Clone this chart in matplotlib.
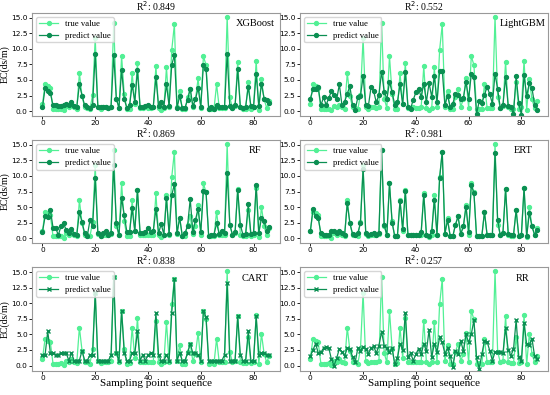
import numpy as np
import matplotlib.pyplot as plt

# true EC values at each sampling point
true_vals = [1.1, 4.3, 4.0, 3.7, 0.3, 0.3, 0.3, 0.4, 0.1, 0.8,
             0.6, 1.0, 0.6, 0.4, 6.1, 2.4, 0.6, 0.5, 0.3, 2.6,
             11.7, 0.7, 0.4, 0.6, 0.6, 0.5, 0.7, 14.2, 2.0, 0.5,
             8.8, 2.7, 0.3, 0.4, 6.1, 1.2, 7.7, 0.5, 0.5, 0.6,
             0.5, 0.5, 0.6, 7.2, 0.5, 0.2, 0.5, 7.0, 0.6, 9.8,
             13.9, 0.7, 3.3, 0.3, 0.3, 2.2, 3.5, 0.7, 1.9, 5.3,
             0.5, 8.8, 7.4, 0.3, 0.4, 0.3, 4.3, 0.5, 0.5, 0.5,
             15.1, 2.2, 0.5, 0.8, 7.9, 0.6, 0.4, 0.4, 4.6, 0.4,
             0.6, 8.1, 0.2, 5.1, 1.9, 0.5, 1.6]

xgb_pred = [0.6, 3.7, 3.2, 2.9, 0.9, 0.9, 0.8, 0.8, 0.9, 1.2,
            0.9, 1.5, 0.8, 0.6, 4.3, 2.5, 0.9, 0.7, 0.5, 1.0,
            9.2, 0.6, 0.6, 0.7, 0.7, 0.5, 0.7, 9.0, 2.0, 0.5,
            6.6, 1.9, 0.5, 0.9, 4.2, 1.5, 6.6, 0.6, 0.6, 0.8,
            0.9, 0.6, 0.7, 5.4, 0.8, 1.5, 0.7, 4.3, 0.8, 7.4,
            9.0, 0.5, 2.4, 0.5, 0.5, 1.8, 3.6, 0.8, 1.9, 3.7,
            0.7, 7.4, 6.7, 0.4, 0.6, 0.4, 0.9, 0.7, 0.6, 0.6,
            9.2, 0.8, 0.5, 0.9, 6.7, 0.6, 0.5, 0.7, 3.9, 0.8,
            0.7, 6.0, 0.8, 4.4, 2.0, 1.7, 1.3]

lgbm_pred = [2.0, 3.5, 3.5, 3.8, 0.9, 2.2, 1.0, 2.1, 3.2, 2.6,
             1.9, 4.3, 0.9, 1.5, 2.8, 4.0, 1.0, 0.2, 2.2, 2.4,
             5.6, 0.9, 0.8, 3.8, 3.2, 1.4, 2.6, 6.3, 3.1, 1.9,
             4.7, 3.0, 1.0, 1.4, 4.3, 1.1, 6.3, 0.7, 0.4, 1.8,
             3.0, 3.6, 2.3, 4.4, 1.5, 4.5, 2.3, 5.6, 1.5, 6.4,
             6.5, 0.9, 2.5, 0.7, 1.2, 2.7, 2.6, 1.9, 2.1, 4.7,
             2.0, 5.9, 5.5, -0.5, 1.6, 1.3, 2.6, 3.9, 2.7, 1.2,
             6.0, 3.5, 0.5, 0.9, 5.5, 0.8, 0.7, -0.5, 5.6, 1.3,
             -0.6, 5.8, 2.4, 4.5, 3.7, 1.0, 0.2]

rf_pred = [1.0, 3.5, 3.4, 4.6, 1.7, 1.7, 0.5, 1.9, 2.4, 1.3,
           0.8, 1.5, 0.7, 0.5, 4.2, 2.6, 0.8, 0.4, 2.9, 1.9,
           9.6, 0.8, 0.4, 0.8, 1.2, 0.5, 0.8, 11.8, 2.4, 0.5,
           6.5, 3.7, 1.0, 1.0, 4.8, 1.1, 7.8, 0.9, 0.8, 1.0,
           1.7, 1.0, 1.2, 4.7, 0.8, 2.3, 0.6, 6.4, 0.7, 6.9,
           8.7, 0.8, 3.3, 0.4, 0.8, 2.0, 6.3, 1.0, 3.0, 4.7,
           1.0, 7.6, 7.4, 0.3, 0.6, 0.6, 2.4, 0.7, 1.2, 0.8,
           10.5, 2.2, 0.6, 1.0, 7.8, 2.2, 0.5, 0.7, 5.5, 0.7,
           0.9, 8.6, 0.9, 3.2, 2.8, 1.1, 1.8]

ert_pred = [1.1, 4.7, 3.5, 3.2, 0.8, 0.6, 0.5, 0.6, 1.1, 1.2,
            0.8, 1.1, 0.8, 0.5, 5.6, 2.4, 0.7, 0.5, 0.8, 2.5,
            11.2, 0.8, 0.5, 0.7, 0.8, 0.5, 0.9, 14.2, 2.1, 0.5,
            8.8, 2.5, 0.3, 0.4, 6.0, 1.5, 7.6, 0.5, 0.6, 0.6,
            0.5, 0.6, 1.0, 7.0, 0.6, 0.3, 1.1, 6.2, 0.6, 9.7,
            13.9, 0.7, 2.9, 0.4, 0.3, 2.2, 3.5, 0.7, 1.9, 5.1,
            1.0, 8.5, 7.3, 0.3, 0.4, 0.4, 4.2, 0.5, 0.6, 0.6,
            13.7, 2.9, 0.5, 0.9, 7.9, 0.7, 0.5, 0.5, 4.5, 0.4,
            0.6, 8.1, 0.3, 4.1, 1.9, 0.6, 1.3]

cart_pred = [1.7, 1.7, 5.5, 2.0, 2.0, 1.7, 1.7, 2.0, 2.0, 2.0,
             0.8, 2.0, 0.8, 0.8, 0.8, 2.4, 0.8, 0.8, 1.7, 1.7,
             11.7, 0.8, 0.8, 0.8, 0.8, 0.8, 1.7, 14.2, 2.0, 0.8,
             8.8, 2.0, 0.8, 0.8, 2.0, 2.0, 5.5, 0.8, 1.7, 0.8,
             1.7, 2.0, 1.7, 8.5, 1.7, 0.8, 0.8, 1.7, 0.8, 8.5,
             13.9, 0.8, 2.0, 0.8, 0.8, 2.0, 3.5, 2.0, 2.0, 1.7,
             0.8, 8.8, 7.8, 0.8, 0.8, 0.8, 0.8, 0.8, 0.8, 1.7,
             13.3, 0.8, 0.8, 0.8, 7.9, 1.7, 0.8, 0.8, 5.5, 0.8,
             0.8, 7.9, 1.7, 2.0, 2.0, 1.7, 1.7]

rr_pred = [1.5, 2.5, 3.5, 2.0, 2.1, 2.8, 2.9, 2.8, 1.0, 0.0,
           1.2, 2.7, 2.2, 1.5, 2.8, 2.7, 1.4, 0.5, 2.8, 2.4,
           3.0, 2.7, 1.9, 2.8, 3.1, 2.0, 3.2, 5.4, 3.2, 2.8,
           2.2, 2.8, 0.2, 1.2, 3.5, 2.5, 8.5, 1.3, 2.0, 0.8,
           1.8, 2.7, 1.8, 3.5, 2.3, 5.7, 1.3, 3.5, 2.2, 4.5,
           3.7, 1.9, 2.8, 1.6, -0.3, 2.4, 1.9, 4.0, 2.3, 5.0,
           3.7, 5.0, 7.3, 1.3, -0.5, 1.8, 4.0, 3.8, 2.4, 0.8,
           2.2, 2.2, 2.2, 2.0, 6.0, 2.5, 1.6, 2.6, 7.3, 1.4,
           0.7, 6.8, 3.4, 3.3, 4.3, 1.5, 1.0]

models = ["XGBoost", "LightGBM", "RF", "ERT", "CART", "RR"]
r2 = ["0.849", "0.552", "0.869", "0.981", "0.838", "0.257"]
preds = [xgb_pred, lgbm_pred, rf_pred, ert_pred, cart_pred, rr_pred]
pred_markers = ["o", "o", "o", "o", "x", "x"]

serif = "Liberation Serif"
true_color = "#52f095"
pred_color = "#0b8f52"

fig, axes = plt.subplots(3, 2, figsize=(5.5, 3.95), dpi=100)
fig.subplots_adjust(left=0.058, right=0.996, top=0.968, bottom=0.062,
                    wspace=0.08, hspace=0.23)

x = np.arange(len(true_vals))
for i, ax in enumerate(axes.flat):
    ax.plot(x, true_vals, color=true_color, marker="o", markersize=2.8,
            linewidth=0.9, label="true value")
    ax.plot(x, preds[i], color=pred_color, marker=pred_markers[i],
            markersize=2.8, linewidth=0.9, label="predict value")
    ax.set_xlim(-4, 90)
    ax.set_ylim(-0.8, 15.8)
    ax.set_yticks([0, 2.5, 5, 7.5, 10, 12.5, 15])
    ax.set_xticks([0, 20, 40, 60, 80])
    ax.tick_params(labelsize=5.3, length=2, width=0.6, pad=1)
    for s in ax.spines.values():
        s.set_color("#999999")
        s.set_linewidth(0.8)
    ax.set_title("R$^2$: " + r2[i], fontsize=7, family=serif, pad=1)
    ax.text(0.9, 0.87, models[i], transform=ax.transAxes, ha="center",
            fontsize=7.5, family=serif)
    ax.legend(loc="upper left", prop={"family": serif, "size": 6.3},
              borderpad=0.3, handlelength=2.2, labelspacing=0.45,
              fancybox=True, framealpha=0.8)
    if i % 2 == 0:
        ax.set_ylabel("EC(ds/m)", fontsize=7, family=serif, labelpad=1)
    if i >= 4:
        ax.set_xlabel("Sampling point sequence", fontsize=8, family=serif,
                      labelpad=-1)

plt.savefig("out.png", dpi=100)
